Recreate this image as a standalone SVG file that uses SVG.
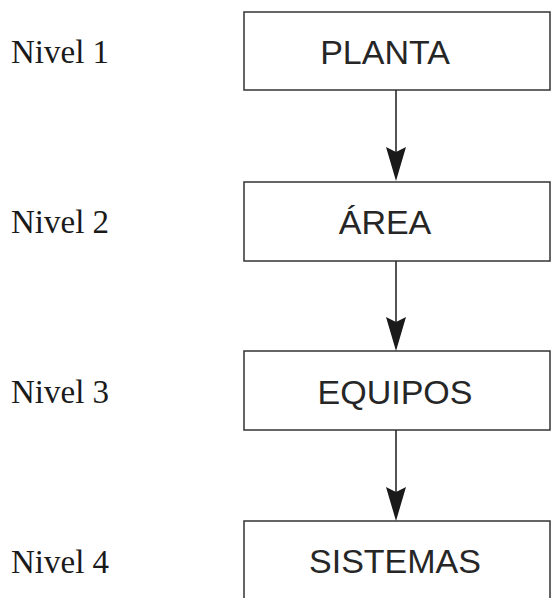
<svg xmlns="http://www.w3.org/2000/svg" width="551" height="598" viewBox="0 0 551 598">
  <style>
    .box { fill: #ffffff; stroke: #333333; stroke-width: 1.5; }
    .name { font-family: "Liberation Sans", Arial, sans-serif; font-size: 34px; fill: #262626; text-anchor: middle; }
    .level { font-family: "Liberation Serif", "Times New Roman", serif; font-size: 33px; fill: #1a1a1a; }
    .link { stroke: #1a1a1a; stroke-width: 1.5; fill: none; }
    .head { fill: #1a1a1a; }
  </style>
  <defs>
    <!-- notched arrowhead, tip at (0,0) -->
    <path id="arrowhead" class="head" d="M0,0 L-10,-34 L0,-29 L10,-34 Z"/>
  </defs>

  <rect width="551" height="598" fill="#ffffff"/>

  <g id="levels">
    <text class="level" x="11" y="63">Nivel 1</text>
    <text class="level" x="11" y="233">Nivel 2</text>
    <text class="level" x="11" y="403">Nivel 3</text>
    <text class="level" x="11" y="573">Nivel 4</text>
  </g>

  <g id="connectors">
    <line class="link" x1="396" y1="90" x2="396" y2="160"/>
    <use href="#arrowhead" x="396" y="181"/>
    <line class="link" x1="396" y1="261" x2="396" y2="330"/>
    <use href="#arrowhead" x="396" y="351"/>
    <line class="link" x1="396" y1="430" x2="396" y2="500"/>
    <use href="#arrowhead" x="396" y="521"/>
  </g>

  <g id="planta">
    <rect class="box" x="244" y="12" width="306" height="78"/>
    <text class="name" x="385" y="64">PLANTA</text>
  </g>
  <g id="area">
    <rect class="box" x="244" y="182" width="306" height="79"/>
    <text class="name" x="385" y="234">ÁREA</text>
  </g>
  <g id="equipos">
    <rect class="box" x="244" y="351" width="306" height="79"/>
    <text class="name" x="395" y="404">EQUIPOS</text>
  </g>
  <g id="sistemas">
    <rect class="box" x="244" y="521" width="306" height="90"/>
    <text class="name" x="395" y="573">SISTEMAS</text>
  </g>
</svg>
